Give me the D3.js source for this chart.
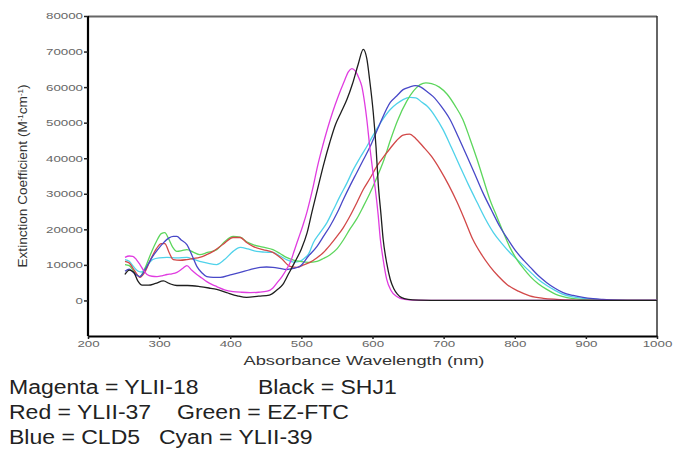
<!DOCTYPE html>
<html>
<head>
<meta charset="utf-8">
<script src="https://cdn.jsdelivr.net/npm/d3@7"></script>
<style>
  body { margin: 0; background: #fff; }
  svg { display: block; font-family: "Liberation Sans", Arial, sans-serif; }
</style>
</head>
<body>
<div class="wrapper"></div>
<script>
// values: [wavelength nm, extinction coefficient]
var xTicks = [200, 300, 400, 500, 600, 700, 800, 900, 1000];
var yTicks = [0, 10000, 20000, 30000, 40000, 50000, 60000, 70000, 80000];

var colorNames = ["Magenta", "Black", "Red", "Green", "Blue", "Cyan"];
var dyeNames = ["YLII-18", "SHJ1", "YLII-37", "EZ-FTC", "CLD5", "YLII-39"];
var lineColors = ["#e03ce0", "#1e1e1e", "#d24848", "#5cd65c", "#4848c8", "#4fd2ea"];

var magenta = [[252,12100],[258,12500],[263,12400],[268,11500],[273,10100],[278,8500],[283,7300],[290,6800],[297,6700],[305,7000],[311,7300],[318,7500],[325,7900],[333,9000],[339,9800],[346,8500],[353,7300],[360,6300],[367,5300],[374,4500],[381,3900],[392,3000],[404,2500],[416,2300],[428,2200],[440,2300],[452,2600],[460,3500],[466,5000],[473,6800],[479,8700],[485,11000],[490,14000],[496,17500],[502,21000],[508,25000],[516,31500],[523,38000],[530,43500],[537,48500],[544,53000],[552,57500],[560,61500],[566,64300],[571,65200],[576,64500],[581,62500],[585,60200],[589,55500],[592,50900],[596,43500],[600,37000],[604,31200],[608,24000],[611,17200],[615,11500],[620,5900],[626,2800],[634,1100],[645,300],[660,100],[700,0],[800,0],[900,0],[1000,0]];

var black = [[252,7300],[258,8500],[264,8000],[270,5500],[276,4300],[285,4300],[295,4800],[306,5500],[315,4700],[325,4200],[340,4200],[357,3900],[370,3500],[381,3100],[395,2200],[410,1300],[423,850],[440,1200],[455,1500],[466,3000],[474,4500],[482,7500],[490,10500],[500,14500],[508,19000],[515,25000],[523,31500],[531,38000],[540,44500],[548,49500],[556,53000],[564,56500],[572,61000],[580,66500],[587,70600],[592,68000],[596,62000],[601,53000],[605,43000],[608,33000],[612,24000],[615,17200],[620,10500],[625,5900],[630,3300],[635,1800],[641,800],[650,300],[665,100],[700,0],[800,0],[900,0],[1000,0]];

var red = [[252,11000],[258,10500],[265,8500],[273,6500],[280,8000],[288,11500],[296,14500],[303,16000],[308,16000],[314,13500],[320,11500],[330,11300],[339,11500],[348,11800],[357,12100],[366,12800],[376,13800],[390,15800],[404,17700],[414,17700],[423,16300],[432,15200],[446,14300],[460,13500],[472,11800],[484,9600],[494,9300],[503,10000],[512,10700],[522,12000],[531,13500],[540,15500],[550,18000],[559,20500],[568,23600],[578,27500],[587,31200],[597,34500],[606,37700],[616,40500],[625,42800],[634,45000],[643,46500],[652,46800],[661,45500],[671,43300],[683,40500],[695,36800],[707,32500],[719,27600],[730,22500],[741,17200],[753,13000],[765,9600],[777,6800],[789,4500],[805,2600],[821,1300],[840,600],[859,300],[880,100],[900,0],[1000,0]];

var green = [[252,10100],[258,9800],[265,8000],[273,6700],[280,9000],[288,13000],[296,16500],[303,18800],[308,19100],[313,17500],[319,15000],[325,13800],[332,14000],[339,14300],[348,13600],[357,12900],[368,13500],[381,14300],[392,16500],[404,18000],[414,17800],[423,16500],[432,15700],[446,15000],[460,14300],[470,13200],[479,12100],[490,11300],[498,11000],[510,10700],[522,11000],[531,11800],[540,12800],[550,14500],[559,17000],[568,20000],[578,23000],[587,26400],[596,30000],[606,34500],[616,39500],[625,45000],[635,50500],[648,56000],[658,59000],[667,60700],[675,61200],[683,61000],[694,60000],[705,58000],[716,54800],[727,50900],[737,45500],[747,39700],[756,34000],[765,28400],[775,23500],[784,19100],[793,15000],[803,11500],[813,8800],[822,6700],[833,4700],[845,3100],[857,1800],[868,1100],[880,600],[891,300],[910,100],[930,0],[1000,0]];

var blue = [[252,8200],[258,8800],[263,8000],[268,7200],[273,6700],[280,8500],[286,10700],[291,12400],[298,14300],[306,16200],[314,17600],[320,18000],[325,18000],[331,17000],[339,15700],[346,12800],[353,9600],[360,7800],[367,6700],[376,6500],[386,6500],[400,7200],[414,7900],[428,8700],[442,9300],[451,9400],[460,9300],[470,9000],[479,8700],[489,9000],[498,9600],[510,12500],[522,15200],[531,18000],[540,20800],[550,24500],[559,28400],[569,32500],[578,36000],[587,39500],[596,43000],[610,49500],[625,55700],[634,57500],[643,59300],[652,60000],[660,60400],[668,60000],[677,58700],[685,57400],[697,54500],[709,50900],[721,45800],[733,40500],[744,35500],[755,30400],[767,25500],[779,20800],[791,17000],[803,13500],[813,11200],[822,9300],[833,7000],[845,5000],[856,3500],[868,2200],[882,1400],[896,850],[910,500],[924,300],[945,100],[970,0],[1000,0]];

var cyan = [[252,11500],[258,11000],[264,9500],[270,8300],[275,8000],[282,9500],[291,11500],[300,12000],[311,12100],[325,12000],[339,12100],[348,11600],[357,11000],[368,10500],[381,10100],[392,11500],[404,13800],[414,14900],[425,14500],[437,13800],[448,13600],[460,13500],[470,12500],[479,11500],[489,10800],[498,11000],[505,12000],[510,13000],[517,16300],[526,19000],[536,21900],[545,25500],[554,29200],[564,33000],[573,36800],[582,40000],[592,43300],[601,46500],[613,50500],[625,53700],[634,55300],[643,56500],[653,57100],[661,57000],[669,55800],[677,54600],[688,51800],[699,48100],[711,43000],[723,37700],[735,32500],[747,27600],[758,23200],[770,19100],[782,16000],[793,13500],[805,11200],[815,9300],[825,7400],[835,5600],[845,4200],[856,2900],[868,1700],[882,1000],[896,600],[915,300],[940,100],[970,0],[1000,0]];

var seriesData = [magenta, black, red, green, blue, cyan];

var width = 673,
  height = 459,
  margin = {top: 16, right: 16, bottom: 123, left: 88},
  w = width - margin.left - margin.right,
  h = height - margin.top - margin.bottom;

// stretch text horizontally (the original uses a wide face)
function stretch(sel, k) {
  sel.each(function() {
    var len = this.getComputedTextLength();
    d3.select(this)
      .attr("textLength", len * k)
      .attr("lengthAdjust", "spacingAndGlyphs");
  });
}

var svg = d3.select(".wrapper").append("svg")
  .attr("width", width)
  .attr("height", height);

svg.append("rect")
  .attr("width", width)
  .attr("height", height)
  .attr("fill", "#fff");

var g = svg.append("g")
  .attr("transform", "translate(" + margin.left + "," + margin.top + ")");

var x = d3.scaleLinear().domain([200, 1000]).range([0, w]);
var y = d3.scaleLinear().domain([-10000, 80000]).range([h, 0]);

// frame: top and right thin grey
g.append("line")
  .attr("x1", 0).attr("x2", w).attr("y1", 0.5).attr("y2", 0.5)
  .attr("stroke", "#666").attr("stroke-width", 2);
g.append("line")
  .attr("x1", w).attr("x2", w).attr("y1", 0).attr("y2", h)
  .attr("stroke", "#333").attr("stroke-width", 1.5);

var line = d3.line()
  .x(function(d) { return x(d[0]); })
  .y(function(d) { return y(d[1]); })
  .curve(d3.curveMonotoneX);

var drawOrder = [5, 3, 2, 4, 0, 1];
drawOrder.forEach(function(i) {
  g.append("path")
    .datum(seriesData[i])
    .attr("fill", "none")
    .attr("stroke", lineColors[i])
    .attr("stroke-width", 1.3)
    .attr("d", line);
});

// axes
var xAxis = g.append("g")
  .attr("transform", "translate(0," + h + ")")
  .call(d3.axisBottom(x).tickValues(xTicks).tickFormat(d3.format("d"))
    .tickSize(3).tickSizeOuter(0).tickPadding(2));

var yAxis = g.append("g")
  .call(d3.axisLeft(y).tickValues(yTicks).tickFormat(d3.format("d"))
    .tickSize(4).tickSizeOuter(0).tickPadding(1));

[xAxis, yAxis].forEach(function(ax) {
  ax.select(".domain").attr("stroke", "#000").attr("stroke-width", 2.2);
  ax.selectAll(".tick line").attr("stroke", "#222").attr("stroke-width", 1.5);
  ax.selectAll(".tick text")
    .attr("font-family", "\"Liberation Sans\", Arial, sans-serif")
    .attr("font-size", 9)
    .attr("fill", "#666")
    .call(stretch, 1.48);
});
yAxis.select(".domain").attr("d", "M0," + h + "V0");

// axis titles
var xTitle = svg.append("text")
  .attr("x", margin.left + x(588))
  .attr("y", 365)
  .attr("text-anchor", "middle")
  .attr("font-size", 12)
  .attr("fill", "#333")
  .text("Absorbance Wavelength (nm)");
xTitle.attr("textLength", 241).attr("lengthAdjust", "spacingAndGlyphs");

var yTitle = svg.append("text")
  .attr("transform", "translate(27,176) rotate(-90)")
  .attr("text-anchor", "middle")
  .attr("font-size", 12)
  .attr("fill", "#333");
yTitle.append("tspan").text("Extinction Coefficient (M");
yTitle.append("tspan").attr("font-size", 7).attr("dy", -4).text("-1");
yTitle.append("tspan").attr("dy", 4).text("cm");
yTitle.append("tspan").attr("font-size", 7).attr("dy", -4).text("-1");
yTitle.append("tspan").attr("dy", 4).text(")");
yTitle.attr("textLength", 183).attr("lengthAdjust", "spacingAndGlyphs");

// legend text under the chart
var legendPos = [[9, 394], [258, 394], [9, 419], [177, 419], [9, 444], [159, 444]];
svg.append("g")
  .selectAll("text")
  .data(colorNames)
  .enter().append("text")
    .attr("x", function(d, i) { return legendPos[i][0]; })
    .attr("y", function(d, i) { return legendPos[i][1]; })
    .attr("font-size", 20)
    .attr("fill", "#222")
    .text(function(d, i) { return d + " = " + dyeNames[i]; })
    .call(stretch, 1.15);
</script>
</body>
</html>
